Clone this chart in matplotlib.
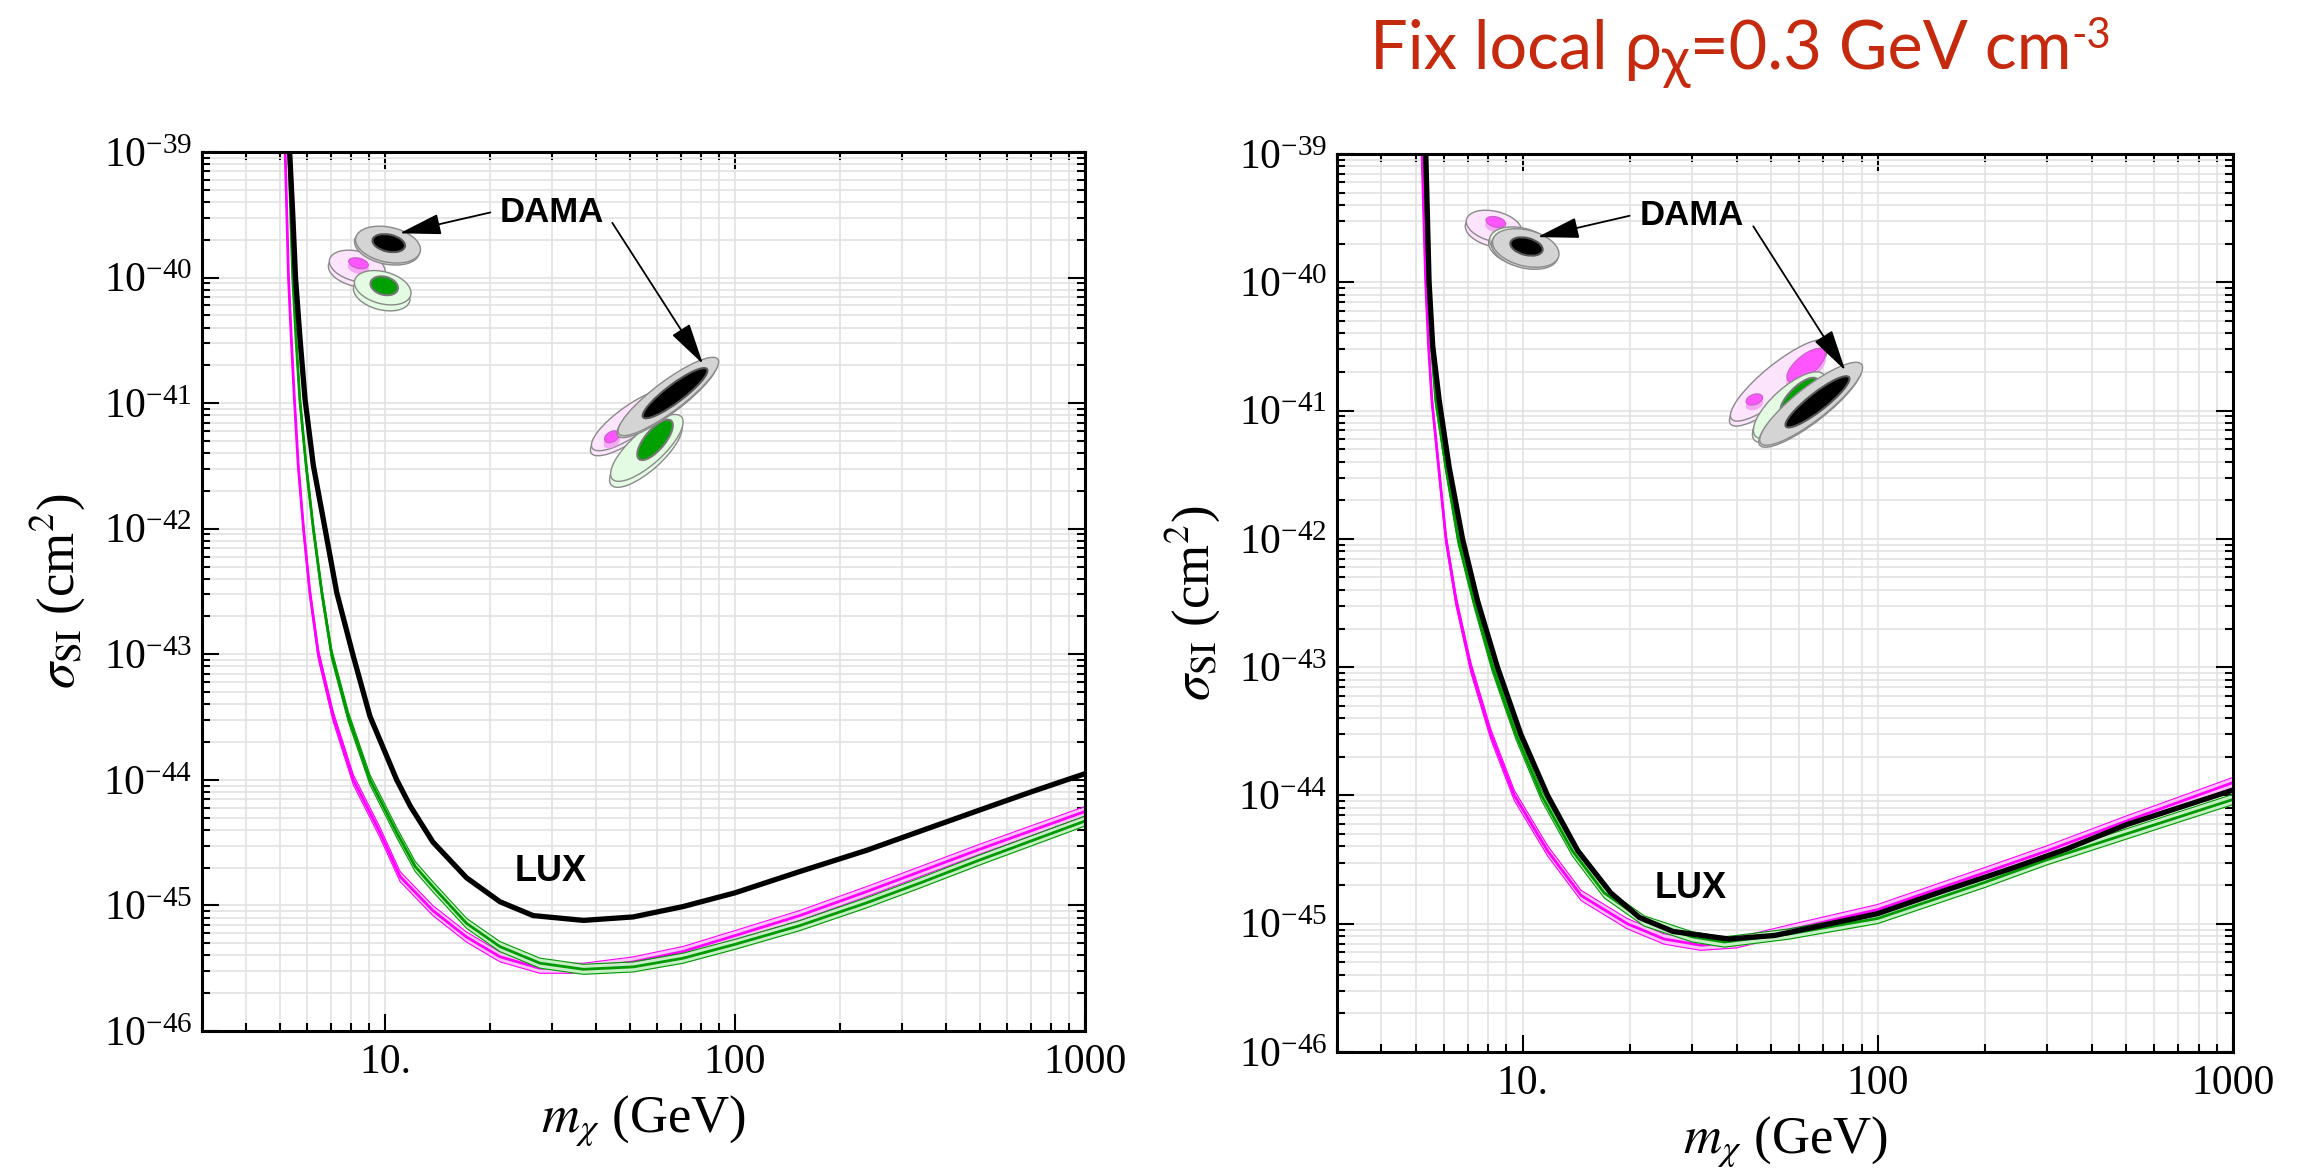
import numpy as np
import matplotlib
matplotlib.use("Agg")
import matplotlib.pyplot as plt
from matplotlib.patches import Ellipse
from matplotlib.transforms import ScaledTranslation, IdentityTransform
from matplotlib.ticker import FixedLocator, NullFormatter

plt.rcParams['font.family'] = ['Liberation Serif', 'DejaVu Serif']
plt.rcParams['mathtext.fontset'] = 'stix'

# ---------------- data ----------------
# left panel (mass in GeV, sigma in cm^2)
left_lux_mass = [5.33, 5.45, 5.55, 5.72, 5.91, 6.24, 6.74, 7.28, 8.09, 9.06, 10.8, 11.8, 13.7,
                 17.1, 21.3, 26.5, 36.9, 51.2, 71.1, 100, 153, 238, 338, 500, 700, 1000]
left_lux_sigma = [1.12e-39, 3.2e-40, 1.0e-40, 3.2e-41, 1.07e-41, 3.2e-42, 1.0e-42, 3.1e-43,
                  1.0e-43, 3.2e-44, 1.0e-44, 6.2e-45, 3.2e-45, 1.66e-45, 1.07e-45, 8.3e-46,
                  7.6e-46, 8.1e-46, 9.8e-46, 1.26e-45, 1.86e-45, 2.75e-45, 3.9e-45, 5.75e-45,
                  8.0e-45, 1.12e-44]
left_mag_mass = [5.18, 5.3, 5.4, 5.51, 5.65, 5.85, 6.1, 6.45, 7.11, 8.12, 9.68, 11.04, 13.7,
                 17.1, 21.3, 27.7, 36.9, 51.2, 71.1, 100, 153, 238, 338, 500, 1000]
left_mag_sigma = [1.12e-39, 1.0e-40, 3.2e-41, 1.07e-41, 3.2e-42, 1.0e-42, 3.1e-43, 1.0e-43,
                  3.2e-44, 1.0e-44, 3.8e-45, 1.7e-45, 9.1e-46, 5.6e-46, 3.9e-46, 3.16e-46,
                  3.16e-46, 3.55e-46, 4.3e-46, 5.75e-46, 8.3e-46, 1.29e-45, 1.86e-45, 2.8e-45,
                  5.6e-45]
left_grn_mass = [5.3, 5.45, 5.57, 5.71, 5.95, 6.24, 6.6, 7.04, 7.85, 9.06, 10.8, 12.2, 13.7,
                 17.1, 21.3, 27.7, 36.9, 51.2, 71.1, 100, 153, 238, 338, 500, 1000]
left_grn_sigma = [1.12e-39, 1.0e-40, 3.2e-41, 1.07e-41, 3.2e-42, 1.0e-42, 3.1e-43, 1.0e-43,
                  3.2e-44, 1.0e-44, 3.8e-45, 2.04e-45, 1.41e-45, 7.2e-46, 4.7e-46, 3.47e-46,
                  3.1e-46, 3.24e-46, 3.8e-46, 4.9e-46, 6.9e-46, 1.05e-45, 1.51e-45, 2.3e-45,
                  4.7e-45]

# right panel (fixed local density)
right_lux_mass = [5.33, 5.45, 5.58, 5.82, 6.21, 6.77, 7.46, 8.49, 9.88, 11.75, 14.3, 17.7, 21.3,
                  26.5, 38, 51.2, 71.1, 100, 153, 238, 338, 500, 1000]
right_lux_sigma = [1.12e-39, 1.0e-40, 3.2e-41, 1.2e-41, 3.6e-42, 1.0e-42, 3.3e-43, 1.0e-43,
                   3.0e-44, 1.0e-44, 3.7e-45, 1.74e-45, 1.12e-45, 8.7e-46, 7.6e-46, 8.1e-46,
                   9.8e-46, 1.2e-45, 1.8e-45, 2.7e-45, 3.8e-45, 5.9e-45, 1.1e-44]
right_mag_mass = [5.2, 5.33, 5.43, 5.55, 5.8, 6.08, 6.49, 7.14, 8.13, 9.47, 11.75, 14.6, 19.7,
                  25, 31.7, 40, 56, 100, 200, 300, 500, 1000]
right_mag_sigma = [1.12e-39, 1.0e-40, 3.2e-41, 1.2e-41, 3.6e-42, 1.0e-42, 3.3e-43, 1.0e-43,
                   3.0e-44, 1.0e-44, 3.7e-45, 1.66e-45, 1.0e-45, 7.6e-46, 6.8e-46, 7.1e-46,
                   8.9e-46, 1.29e-45, 2.5e-45, 3.7e-45, 6.3e-45, 1.26e-44]
right_grn_mass = [5.28, 5.42, 5.53, 5.69, 6.08, 6.58, 7.28, 8.22, 9.57, 11.3, 13.8, 16.97, 22,
                  30, 37, 56, 100, 200, 300, 500, 1000]
right_grn_sigma = [1.12e-39, 1.0e-40, 3.2e-41, 1.2e-41, 3.6e-42, 1.0e-42, 3.3e-43, 1.0e-43,
                   3.0e-44, 1.0e-44, 3.7e-45, 1.74e-45, 1.05e-45, 7.9e-46, 7.2e-46, 8.3e-46,
                   1.1e-45, 2.1e-45, 3.16e-45, 5.0e-45, 9.3e-45]

# band half widths (dex)
mag_dw = 0.04
grn_dw = 0.04

xtick_vals = [10, 100, 1000]
xtick_labels = ['10.', '100', '1000']
ytick_vals = [1e-46, 1e-45, 1e-44, 1e-43, 1e-42, 1e-41, 1e-40, 1e-39]

# DAMA label / arrows / LUX label (mass, sigma)
dama_label = (30.0, 3.3e-40)
arrow1 = ((20.0, 3.3e-40), (11.0, 2.25e-40))
arrow2 = ((44.6, 2.73e-40), (81.0, 2.05e-41))
lux_label = (29.8, 1.88e-45)

RED = '#c62a0e'
EDGE = '#8a8a8a'


def setup(ax):
    ax.set_xscale('log')
    ax.set_yscale('log')
    ax.set_xticks(xtick_vals, labels=xtick_labels)
    xminor = [k * d for d in (1, 10, 100) for k in range(2, 10) if 3 <= k * d < 1000]
    ax.xaxis.set_minor_locator(FixedLocator(xminor))
    ax.xaxis.set_minor_formatter(NullFormatter())
    ax.set_yticks(ytick_vals)
    yminor = [k * t for t in ytick_vals[:-1] for k in range(2, 10)]
    ax.yaxis.set_minor_locator(FixedLocator(yminor))
    ax.yaxis.set_minor_formatter(NullFormatter())
    ax.set_xlim(3, 1000)
    ax.set_ylim(1e-46, 1e-39)
    ax.tick_params(which='both', direction='in', top=True, right=True, width=1.5)
    ax.tick_params(which='major', length=12, labelsize=30)
    ax.tick_params(which='minor', length=6)
    ax.tick_params(axis='x', which='major', pad=9)
    ax.tick_params(axis='y', which='major', pad=7)
    ax.grid(True, which='both', color='#e2e2e2', lw=1.2)
    ax.set_axisbelow(True)
    for s in ax.spines.values():
        s.set_linewidth(2.2)
    ax.set_xlabel(r'$m_\chi$ (GeV)', fontsize=38, labelpad=8)
    ax.set_ylabel(r'$\sigma_{\rm SI}$ (cm$^2$)', fontsize=38, labelpad=12)


def band(ax, m, s, dw, line_c, fill_c):
    m = np.asarray(m)
    s = np.asarray(s)
    lo, hi = s * 10 ** -dw, s * 10 ** dw
    ax.fill_between(m, lo, hi, color=fill_c, lw=0, zorder=2)
    ax.plot(m, lo, color=line_c, lw=0.8, zorder=2)
    ax.plot(m, hi, color=line_c, lw=0.8, zorder=2)
    ax.plot(m, s, color=line_c, lw=2.0, zorder=2)


def ell(ax, x, y, w, h, ang, fc, ec=EDGE, lw=1.0, dx=0, dy=0, z=4):
    # ellipse sized in pixels, centred on a data point
    tr = ax.figure.dpi_scale_trans + ScaledTranslation(x, y, ax.transData)
    ax.add_patch(Ellipse((dx / 100, dy / 100), w / 100, h / 100, angle=ang, transform=tr,
                         fc=fc, ec=ec, lw=lw, zorder=z, clip_on=False))


def coin(ax, x, y, w, h, ang, fc, thick=5, z=4):
    ell(ax, x, y, w, h, ang, fc, dx=-1, dy=-thick, z=z)
    ell(ax, x, y, w, h, ang, fc, z=z)


def annotate_dama(ax):
    ax.text(*dama_label, 'DAMA', family='Liberation Sans', weight='bold', fontsize=25,
            ha='center', va='center', zorder=6)
    for start, tip in (arrow1, arrow2):
        ax.annotate('', xy=tip, xytext=start, zorder=6,
                    arrowprops=dict(arrowstyle='-|>,head_length=2.6,head_width=0.65',
                                    mutation_scale=10, lw=1.3, color='k',
                                    shrinkA=0, shrinkB=0))
    ax.text(*lux_label, 'LUX', family='Liberation Sans', weight='bold', fontsize=26,
            ha='center', va='center', zorder=6)


fig = plt.figure(figsize=(23.03, 11.76), dpi=100)
ax1 = fig.add_axes([0.08771, 0.12330, 0.38341, 0.74745])
ax2 = fig.add_axes([0.58055, 0.10544, 0.38905, 0.76361])

for ax in (ax1, ax2):
    setup(ax)

# --- left panel ---
band(ax1, left_mag_mass, left_mag_sigma, mag_dw, '#ff00ff', '#ffc4ff')
band(ax1, left_grn_mass, left_grn_sigma, grn_dw, '#009a00', '#c6efc6')
ax1.plot(left_lux_mass, left_lux_sigma, color='k', lw=3.8, zorder=3)

# low-mass DAMA islands
coin(ax1, 8.33, 1.23e-40, 57, 30, -14, '#fce4fc')
ell(ax1, 8.4, 1.25e-40, 22, 11, -14, '#f6a8f6', ec='none', dy=-3)
ell(ax1, 8.4, 1.3e-40, 20, 10, -14, '#ff55ff', ec='#d060d0')
coin(ax1, 9.85, 8.3e-41, 58, 32, -15, '#e2fbe2', thick=6)
ell(ax1, 9.95, 8.6e-41, 28, 18, -15, '#00a000', ec='#777777', lw=1.5)
coin(ax1, 10.2, 1.83e-40, 66, 35, -12, '#d4d4d4', thick=2)
ell(ax1, 10.25, 1.88e-40, 33, 17, -12, '#000000', ec='#555555', lw=1.5)

# high-mass DAMA islands
coin(ax1, 51.2, 7.4e-42, 100, 30, 35, '#fce4fc')
ell(ax1, 44.5, 5.2e-42, 18, 11, 30, '#f6a8f6', ec='none', dy=-3)
ell(ax1, 44.5, 5.4e-42, 16, 10, 30, '#ff55ff', ec='#d060d0')
coin(ax1, 56.0, 4.4e-42, 93, 33, 42, '#e2fbe2', thick=6)
ell(ax1, 59.1, 5.1e-42, 50, 20, 50, '#00a000', ec='#777777', lw=1.5)
coin(ax1, 64.5, 1.13e-41, 124, 30, 37, '#d4d4d4', thick=2)
ell(ax1, 67.4, 1.2e-41, 80, 18, 37, '#000000', ec='#555555', lw=1.5)

annotate_dama(ax1)

# --- right panel ---
band(ax2, right_mag_mass, right_mag_sigma, mag_dw, '#ff00ff', '#ffc4ff')
band(ax2, right_grn_mass, right_grn_sigma, grn_dw, '#009a00', '#c6efc6')
ax2.plot(right_lux_mass, right_lux_sigma, color='k', lw=3.8, zorder=3)

coin(ax2, 8.31, 2.73e-40, 57, 30, -14, '#fce4fc')
ell(ax2, 8.4, 2.85e-40, 22, 11, -14, '#f6a8f6', ec='none', dy=-3)
ell(ax2, 8.4, 2.95e-40, 20, 10, -14, '#ff55ff', ec='#d060d0')
coin(ax2, 9.95, 1.93e-40, 66, 35, -14, '#e2fbe2', thick=3)
coin(ax2, 10.2, 1.85e-40, 68, 36, -14, '#d4d4d4', thick=2)
ell(ax2, 10.25, 1.9e-40, 33, 17, -14, '#000000', ec='#555555', lw=1.5)

coin(ax2, 52.8, 1.72e-41, 123, 33, 39, '#fce4fc')
ell(ax2, 62.8, 2.15e-41, 49, 21, 40, '#f6a8f6', ec='none', dy=-3)
ell(ax2, 62.8, 2.25e-41, 47, 20, 40, '#ff55ff', ec='#d060d0')
ell(ax2, 44.9, 1.18e-41, 18, 11, 20, '#f6a8f6', ec='none', dy=-3)
ell(ax2, 44.9, 1.22e-41, 17, 10, 20, '#ff55ff', ec='#d060d0')
coin(ax2, 56.4, 1.1e-41, 92, 35, 42, '#e2fbe2', thick=4)
ell(ax2, 60.1, 1.28e-41, 50, 20, 45, '#00a000', ec='#777777', lw=1.5)
coin(ax2, 64.9, 1.13e-41, 128, 33, 38, '#d4d4d4', thick=2)
ell(ax2, 67.6, 1.17e-41, 80, 18, 38, '#000000', ec='#555555', lw=1.5)

annotate_dama(ax2)

# --- red title above the right panel, built piece by piece ---
renderer = fig.canvas.get_renderer()
tfam = ['Lato', 'DejaVu Sans']
x, base = 1370, 1176 - 69
pieces = [('Fix local \u03c1', 48, 0), ('\u03c7', 42, -9), ('=0.3 GeV cm', 48, 0), ('-3', 30, 21)]
for s, size, dy in pieces:
    t = fig.text(x, base + dy, s, fontsize=size, color=RED, family=tfam,
                 transform=IdentityTransform(), ha='left', va='baseline')
    x = t.get_window_extent(renderer).x1

fig.savefig('out.png', dpi=100)
